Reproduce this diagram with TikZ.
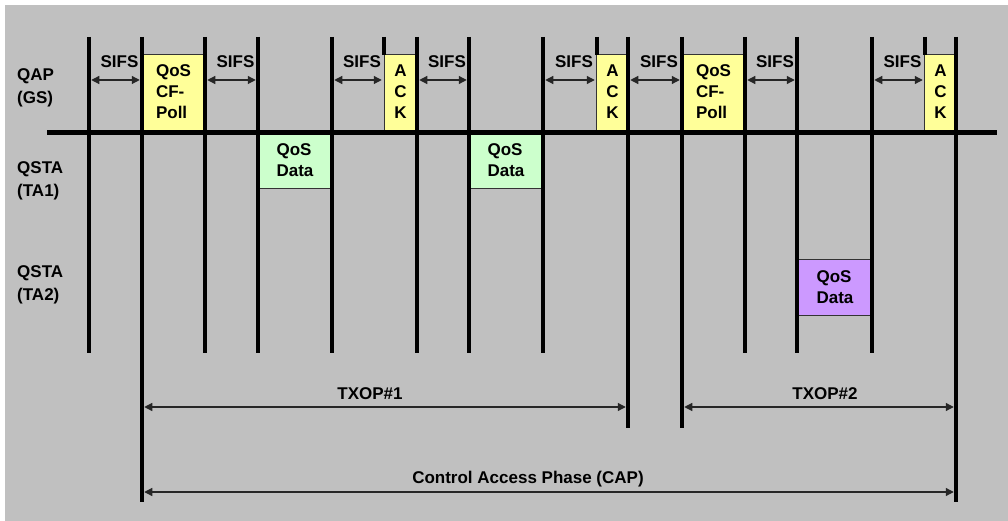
\documentclass[tikz,border=0pt]{standalone}
\usepackage{fontspec}
\setmainfont{Liberation Sans}
\usetikzlibrary{arrows.meta}
\definecolor{bggray}{HTML}{C0C0C0}
\definecolor{pollyellow}{HTML}{FFFF99}
\definecolor{datagreen}{HTML}{CCFFCC}
\definecolor{datapurple}{HTML}{CC99FF}
\definecolor{edgegray}{gray}{0.2}

\begin{document}
\begin{tikzpicture}[x=1pt, y=-1pt,
  bar/.style={line width=4.5pt},
  frame/.style={draw=edgegray, line width=0.8pt, inner sep=0pt, font=\fontsize{17}{21}\selectfont\bfseries},
  poll/.style={frame, fill=pollyellow, align=left, minimum width=63pt, minimum height=76pt},
  ack/.style={frame, fill=pollyellow, align=center, minimum width=32pt, minimum height=76pt},
  data/.style={frame, align=left, minimum width=74pt, minimum height=56pt},
  arr/.style={{Triangle[length=8pt,width=8pt]}-{Triangle[length=8pt,width=8pt]}, line width=1.2pt, draw=black!85},
  lbl/.style={font=\fontsize{17}{23}\selectfont\bfseries, inner sep=0pt}
]
  \useasboundingbox (0,0) rectangle (1008,521);
  \fill[bggray] (5,5) rectangle (1008,521);

  % frames
  \node[poll] (poll1) at (173.5,92) {QoS\\CF-\\Poll};
  \node[ack]  (ack1)  at (400.5,92) {A\\C\\K};
  \node[ack]  (ack2)  at (612.5,92) {A\\C\\K};
  \node[poll] (poll2) at (713.5,92) {QoS\\CF-\\Poll};
  \node[ack]  (ack3)  at (940.5,92) {A\\C\\K};
  \node[data, fill=datagreen]  (data1) at (295,160.5) {QoS\\Data};
  \node[data, fill=datagreen]  (data2) at (506,160.5) {QoS\\Data};
  \node[data, fill=datapurple] (data3) at (835,287.5) {QoS\\Data};

  % time lines
  \foreach \n/\x/\yb in {1/89/353, 2/142/502, 3/205/353, 4/258/353, 5/332/353,
      6/384/55, 7/417/353, 8/469/353, 9/543/353, 10/597/55, 11/628/428,
      12/682/428, 13/745/353, 14/797/353, 15/872/353, 16/925/55, 17/956/502} {
    \coordinate (top\n) at (\x,37);
    \coordinate (bot\n) at (\x,\yb);
    \coordinate (s\n) at (\x,80);
    \draw[bar] (top\n) -- (bot\n);
  }
  \coordinate (axl) at (47,132.5);
  \coordinate (axr) at (997,132.5);
  \draw[bar] (axl) -- (axr);

  % stations
  \node[lbl, align=left, anchor=west] (qap)  at (17,88)  {QAP\\(GS)};
  \node[lbl, align=left, anchor=west] (sta1) at (17,181) {QSTA\\(TA1)};
  \node[lbl, align=left, anchor=west] (sta2) at (17,285) {QSTA\\(TA2)};

  % interframe spaces
  \foreach \a/\b in {1/2, 3/4, 5/6, 7/8, 9/10, 11/12, 13/14, 15/16}
    \draw[arr] ([xshift=2.25pt]s\a) -- ([xshift=-2.25pt]s\b)
      node[lbl, midway, above=12pt, xshift=4pt] {SIFS};

  % periods
  \coordinate (tx) at (0,407);
  \coordinate (cp) at (0,492);
  \draw[arr] ([xshift=2.25pt]top2 |- tx) -- ([xshift=-2.25pt]top11 |- tx);
  \draw[arr] ([xshift=2.25pt]top12 |- tx) -- ([xshift=-2.25pt]top17 |- tx);
  \draw[arr] ([xshift=2.25pt]top2 |- cp) -- ([xshift=-2.25pt]top17 |- cp);
  \node[lbl, anchor=base] (txop1) at (370,399) {TXOP\#1};
  \node[lbl, anchor=base] (txop2) at (825,399) {TXOP\#2};
  \node[lbl, anchor=base] (cap)   at (528,483) {Control Access Phase (CAP)};
\end{tikzpicture}
\end{document}
